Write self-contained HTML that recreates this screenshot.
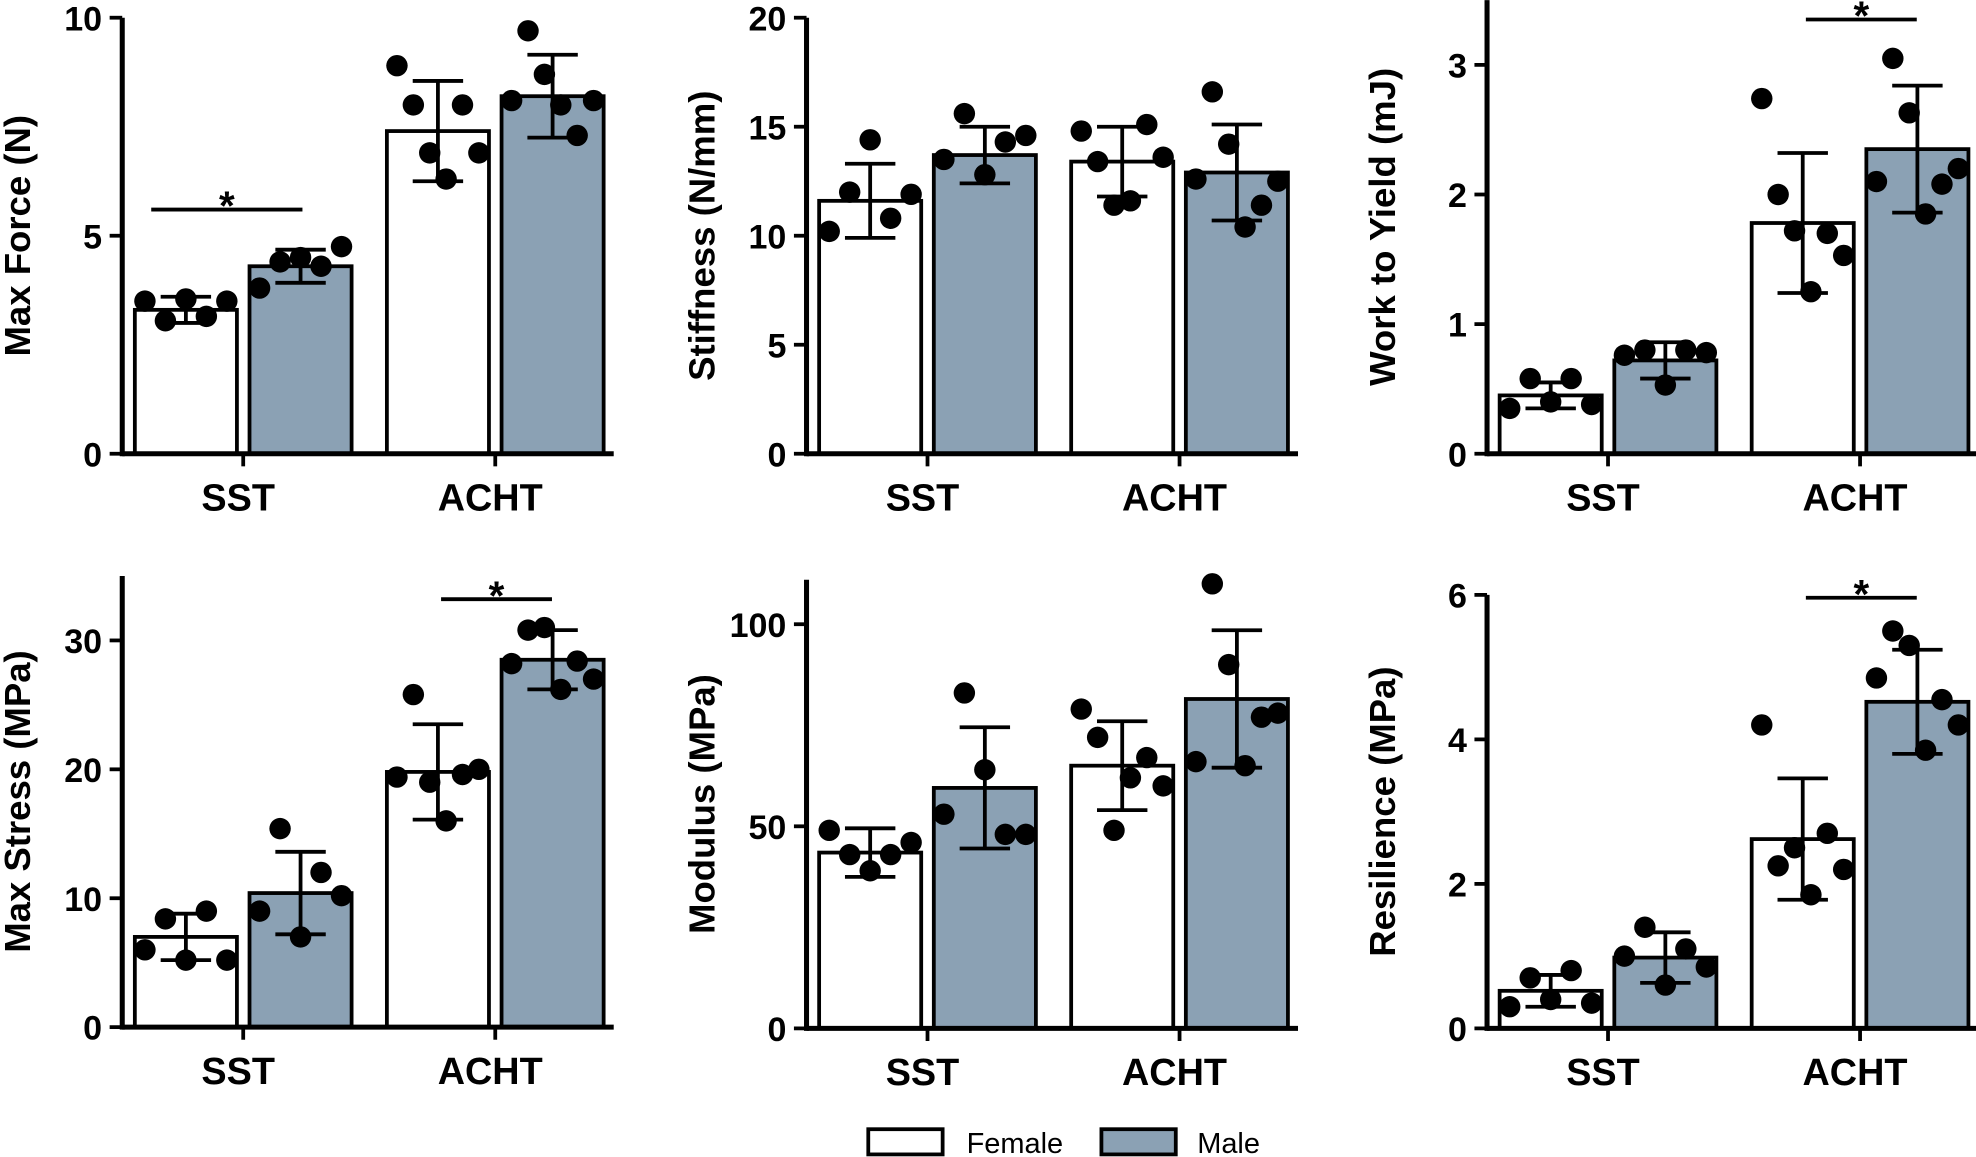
<!DOCTYPE html>
<html><head><meta charset="utf-8"><style>
html,body{margin:0;padding:0;background:#fff;}
svg{display:block;font-family:"Liberation Sans","DejaVu Sans",sans-serif;}
</style></head><body>
<svg id="fig" width="1976" height="1157" viewBox="0 0 1568 918" xmlns="http://www.w3.org/2000/svg"></svg>
<script>
const groups = ["SST","ACHT"];
const titles = ["Max Force (N)","Stiffness (N/mm)","Work to Yield (mJ)","Max Stress (MPa)","Modulus (MPa)","Resilience (MPa)"];
const ticks = [[0,5,10],[0,5,10,15,20],[0,1,2,3],[0,10,20,30],[0,50,100],[0,2,4,6]];
const yMax = [10,20,3.5,35,111,6];
const meanF = [[3.3,7.4],[11.6,13.4],[0.45,1.78],[7.0,19.8],[43.5,65],[0.52,2.62]];
const meanM = [[4.3,8.2],[13.7,12.9],[0.72,2.35],[10.4,28.5],[59.5,81.5],[0.98,4.52]];
const sdF = [[0.3,1.15],[1.7,1.6],[0.1,0.54],[1.8,3.7],[6,11],[0.22,0.84]];
const sdM = [[0.38,0.95],[1.3,2.2],[0.14,0.49],[3.2,2.3],[15,17],[0.35,0.72]];
const ptsF = [
 [[3.5,3.05,3.55,3.15,3.5],[8.9,8.0,6.9,6.3,8.0,6.9]],
 [[10.2,12,14.4,10.8,11.9],[14.8,13.4,11.4,11.6,15.1,13.6]],
 [[0.35,0.58,0.4,0.58,0.38],[2.74,2.0,1.72,1.25,1.7,1.53]],
 [[6,8.4,5.2,9,5.2],[19.4,25.8,19,16,19.6,20]],
 [[49,43,39,43,46],[79,72,49,62,67,60]],
 [[0.3,0.7,0.4,0.8,0.35],[4.2,2.25,2.5,1.85,2.7,2.2]]];
const ptsM = [
 [[3.8,4.4,4.5,4.3,4.75],[8.1,9.7,8.7,8.0,7.3,8.1]],
 [[13.5,15.6,12.8,14.3,14.6],[12.6,16.6,14.2,10.4,11.4,12.5]],
 [[0.76,0.8,0.53,0.8,0.78],[2.1,3.05,2.63,1.85,2.08,2.2]],
 [[9,15.4,7,12,10.2],[28.2,30.8,31,26.2,28.4,27]],
 [[53,83,64,48,48],[66,110,90,65,77,78]],
 [[1.0,1.4,0.6,1.1,0.85],[4.85,5.5,5.3,3.85,4.55,4.2]]];
const sig = [[0,5.6],null,[1,3.35],[1,33.2],null,[1,5.96]];

const NS="http://www.w3.org/2000/svg";
const svg=document.getElementById('fig');
function mk(tag,at,parent){const e=document.createElementNS(NS,tag);for(const k in at)e.setAttribute(k,at[k]);(parent||svg).appendChild(e);return e;}
const layouts=[{ax:97,y0:360,top:14},{ax:640,y0:360,top:14},{ax:1180,y0:360,top:0},
 {ax:97,y0:815,top:457},{ax:640,y0:816,top:460},{ax:1180,y0:816,top:472}];
titles.forEach((t,p)=>{
 const L=layouts[p];
 const g=mk('g',{});
 
 
 const ys=v=>L.y0-(v/yMax[p])*(L.y0-L.top);
 const bx=(gi,s)=>L.ax+10+gi*200+s*91;
 groups.forEach((gn,gi)=>{
  [0,1].forEach(s=>{
   const m=(s?meanM:meanF)[p][gi], sd=(s?sdM:sdF)[p][gi], pts=(s?ptsM:ptsF)[p][gi];
   const x=bx(gi,s), w=81;
   const r=mk('rect',{x:x,y:ys(m),width:w,height:L.y0-ys(m),fill:s?'#8ba1b4':'#fff',stroke:'#000','stroke-width':3},g);
   
   
   const cx=x+w/2;
   const e=mk('path',{d:`M${cx},${ys(m-sd)}V${ys(m+sd)}M${cx-20},${ys(m+sd)}H${cx+20}M${cx-20},${ys(m-sd)}H${cx+20}`,stroke:'#000','stroke-width':3,fill:'none'},g);
   
   
   pts.forEach((v,i)=>{
    const px=x+8+i*(w-16)/(pts.length-1);
    const c=mk('circle',{cx:px,cy:ys(v),r:8.5,fill:'#000'},g);
    
    
   });
  });
  const tx=L.ax+10+gi*200+86;
  mk('line',{x1:tx,x2:tx,y1:L.y0,y2:L.y0+10,stroke:'#000','stroke-width':3},g);
  const lb=mk('text',{x:tx-4,y:L.y0+45,'text-anchor':'middle','font-size':30,'font-weight':'bold'},g);
  lb.textContent=gn;
  
  
 });
 mk('line',{x1:L.ax,x2:L.ax+390,y1:L.y0,y2:L.y0,stroke:'#000','stroke-width':4},g);
 mk('line',{x1:L.ax,x2:L.ax,y1:L.top,y2:L.y0+2,stroke:'#000','stroke-width':4},g);
 ticks[p].forEach(v=>{
  mk('line',{x1:L.ax-10,x2:L.ax,y1:ys(v),y2:ys(v),stroke:'#000','stroke-width':3},g);
  const tt=mk('text',{x:L.ax-16,y:ys(v)+10,'text-anchor':'end','font-size':27,'font-weight':'bold'},g);
  tt.textContent=v;
  
  
 });
 const yt=mk('text',{transform:`translate(${L.ax-73},${(L.top+L.y0)/2}) rotate(-90)`,'text-anchor':'middle','font-size':29,'font-weight':'bold'},g);
 yt.textContent=t;
 
 
 if(sig[p]){
  const gi=sig[p][0], y=ys(sig[p][1]);
  const sl=mk('line',{x1:L.ax+10+gi*200+(gi?43:13),x2:L.ax+10+gi*200+(gi?131:133),y1:y,y2:y,stroke:'#000','stroke-width':3},g);
  
  
  const st=mk('text',{x:L.ax+10+gi*200+(gi?87:73),y:y+8,'text-anchor':'middle','font-size':32,'font-weight':'bold'},g);
  st.textContent='*';
  
  
 }
});
const lg=mk('g',{});


mk('rect',{x:689,y:896,width:59,height:20,fill:'#fff',stroke:'#000','stroke-width':3},lg);
const t1=mk('text',{x:767,y:915,'font-size':23},lg);t1.textContent='Female';


mk('rect',{x:874,y:896,width:59,height:20,fill:'#8ba1b4',stroke:'#000','stroke-width':3},lg);
const t2=mk('text',{x:950,y:915,'font-size':23},lg);t2.textContent='Male';


</script>
</body></html>
